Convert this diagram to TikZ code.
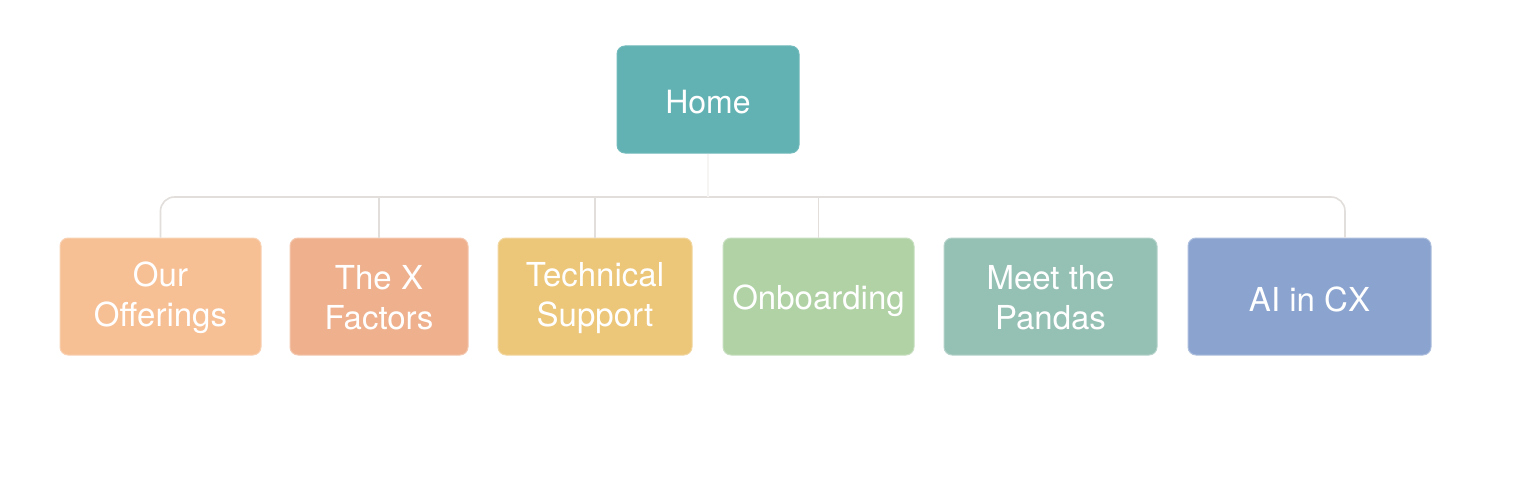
\documentclass[tikz,border=0pt]{standalone}
\usepackage{fontspec}
\setmainfont{TeX Gyre Heros}
\definecolor{homec}{HTML}{62B2B3}
\definecolor{offc}{HTML}{F7BF94}
\definecolor{xfc}{HTML}{EFB08D}
\definecolor{techc}{HTML}{ECC679}
\definecolor{onbc}{HTML}{B0D2A5}
\definecolor{pandc}{HTML}{95C0B4}
\definecolor{aic}{HTML}{8AA3CF}
\definecolor{busc}{HTML}{E2DEDC}
\begin{document}
\begin{tikzpicture}[x=1pt,y=-1pt,
  box/.style={rounded corners=8pt, inner sep=0pt, line width=1pt},
  lbl/.style={text=white, align=center, inner sep=0pt,
    font=\fontsize{33}{40}\selectfont},
  bus/.style={draw=busc, line width=1.6pt},
  faint/.style={draw=busc!30, line width=1.2pt}]
\useasboundingbox[fill=white] (0,0) rectangle (1536,484);
\node[box, fill=homec, draw=homec!90!white, minimum width=182pt, minimum height=107pt,
  label={[lbl, font=\fontsize{32}{38}\selectfont, yshift=-2.5pt]center:Home}] (home) at (708,99.5) {};
\node[box, fill=offc, draw=offc!70!white, minimum width=201pt, minimum height=117pt,
  label={[lbl, yshift=-1.5pt]center:{Our\\Offerings}}] (off) at (160.5,296.5) {};
\node[box, fill=xfc, draw=xfc!70!white, minimum width=178pt, minimum height=117pt,
  label={[lbl, yshift=-1.5pt]center:{The X\\Factors}}] (xf) at (379,296.5) {};
\node[box, fill=techc, draw=techc!70!white, minimum width=194pt, minimum height=117pt,
  label={[lbl, yshift=-1.5pt]center:{Technical\\Support}}] (tech) at (595,296.5) {};
\node[box, fill=onbc, draw=onbc!70!white, minimum width=191pt, minimum height=117pt,
  label={[lbl, yshift=-4.5pt]center:Onboarding}] (onb) at (818.5,296.5) {};
\node[box, fill=pandc, draw=pandc!70!white, minimum width=213pt, minimum height=117pt,
  label={[lbl, yshift=-1.5pt]center:{Meet the\\Pandas}}] (pand) at (1050.5,296.5) {};
\node[box, fill=aic, draw=aic!70!white, minimum width=243pt, minimum height=117pt,
  label={[lbl, yshift=-3pt]center:AI in CX}] (ai) at (1309.5,296.5) {};
\coordinate (busy) at (0,197);
\coordinate (aitop) at ([xshift=35.5pt]ai.north);
\draw[bus, rounded corners=14pt] (off.north) -- (off.north |- busy) -- (aitop |- busy) -- (aitop);
\draw[bus] (xf.north) -- (xf.north |- busy);
\draw[bus] (tech.north) -- (tech.north |- busy);
\draw[bus] (onb.north) -- (onb.north |- busy);
\draw[faint] (home.south) -- (home.south |- busy);
\end{tikzpicture}
\end{document}
